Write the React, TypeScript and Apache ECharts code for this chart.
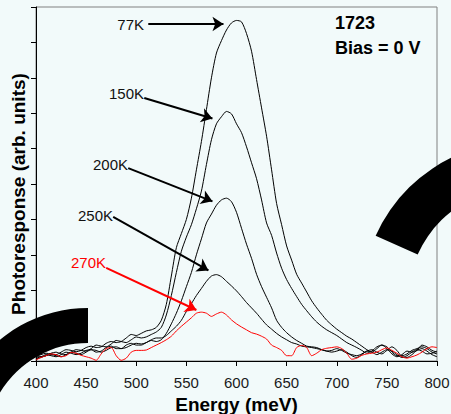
import React, { useEffect, useRef } from 'react';
import * as echarts from 'echarts';

const energy = [
  400, 405, 410, 415, 420, 425, 430, 435, 440, 445,
  450, 455, 460, 465, 470, 475, 480, 485, 490, 495,
  500, 505, 510, 515, 520, 525, 530, 535, 540, 545,
  550, 555, 560, 565, 570, 575, 580, 585, 590, 595,
  600, 605, 610, 615, 620, 625, 630, 635, 640, 645,
  650, 655, 660, 665, 670, 675, 680, 685, 690, 695,
  700, 705, 710, 715, 720, 725, 730, 735, 740, 745,
  750, 755, 760, 765, 770, 775, 780, 785, 790, 795,
  800,
];

const resp77K = [
  0.12, 0.18, 0.22, 0.20, 0.18, 0.25, 0.32, 0.30, 0.26, 0.30,
  0.38, 0.42, 0.38, 0.40, 0.50, 0.55, 0.52, 0.55, 0.65, 0.75,
  0.72, 0.78, 0.85, 0.88, 0.95, 1.15, 1.60, 2.40, 3.20, 3.60,
  4.00, 4.60, 5.40, 6.20, 7.10, 8.00, 8.70, 9.05, 9.35, 9.55,
  9.62, 9.58, 9.25, 8.75, 7.95, 7.15, 6.35, 5.40, 4.45, 3.85,
  3.25, 2.85, 2.45, 2.20, 1.95, 1.70, 1.50, 1.32, 1.15, 1.02,
  0.90, 0.80, 0.70, 0.62, 0.52, 0.42, 0.32, 0.25, 0.35, 0.45,
  0.40, 0.25, 0.15, 0.15, 0.20, 0.30, 0.35, 0.40, 0.35, 0.25,
  0.20,
];

const resp150K = [
  0.15, 0.12, 0.15, 0.22, 0.25, 0.20, 0.18, 0.25, 0.32, 0.30,
  0.28, 0.35, 0.45, 0.42, 0.40, 0.48, 0.58, 0.55, 0.52, 0.60,
  0.68, 0.65, 0.68, 0.75, 0.82, 0.95, 1.30, 1.85, 2.50, 3.10,
  3.50, 3.85, 4.30, 4.80, 5.55, 6.25, 6.70, 6.90, 7.05, 6.98,
  6.70, 6.45, 6.05, 5.60, 5.15, 4.55, 3.90, 3.55, 3.05, 2.62,
  2.30, 2.05, 1.82, 1.60, 1.42, 1.25, 1.10, 0.98, 0.88, 0.80,
  0.72, 0.62, 0.52, 0.45, 0.38, 0.30, 0.22, 0.28, 0.40, 0.45,
  0.35, 0.20, 0.12, 0.18, 0.28, 0.25, 0.30, 0.45, 0.40, 0.30,
  0.25,
];

const resp200K = [
  0.08, 0.12, 0.18, 0.15, 0.12, 0.18, 0.25, 0.22, 0.18, 0.22,
  0.30, 0.32, 0.25, 0.28, 0.38, 0.42, 0.35, 0.35, 0.45, 0.50,
  0.45, 0.45, 0.52, 0.58, 0.55, 0.60, 0.78, 1.05, 1.35, 1.70,
  2.10, 2.50, 3.00, 3.45, 3.90, 4.15, 4.40, 4.55, 4.60, 4.50,
  4.20, 3.75, 3.30, 2.90, 2.45, 2.10, 1.80, 1.50, 1.15, 0.95,
  0.80, 0.68, 0.58, 0.50, 0.42, 0.40, 0.38, 0.32, 0.28, 0.30,
  0.35, 0.30, 0.22, 0.18, 0.15, 0.20, 0.28, 0.32, 0.25, 0.20,
  0.30, 0.40, 0.30, 0.12, 0.10, 0.18, 0.30, 0.35, 0.28, 0.18,
  0.12,
];

const resp250K = [
  0.05, 0.10, 0.15, 0.18, 0.15, 0.12, 0.18, 0.25, 0.22, 0.18,
  0.25, 0.32, 0.30, 0.25, 0.30, 0.38, 0.40, 0.35, 0.38, 0.45,
  0.50, 0.48, 0.52, 0.60, 0.65, 0.65, 0.72, 0.85, 0.98, 1.15,
  1.40, 1.62, 1.85, 2.05, 2.25, 2.40, 2.44, 2.38, 2.25, 2.12,
  1.98, 1.82, 1.65, 1.50, 1.35, 1.18, 1.02, 0.90, 0.78, 0.68,
  0.60, 0.52, 0.48, 0.42, 0.40, 0.38, 0.35, 0.32, 0.28, 0.25,
  0.28, 0.32, 0.25, 0.15, 0.10, 0.18, 0.28, 0.25, 0.18, 0.25,
  0.32, 0.28, 0.18, 0.10, 0.15, 0.25, 0.32, 0.28, 0.20, 0.22,
  0.28,
];

const resp270K = [
  0.03, 0.10, 0.15, 0.20, 0.18, 0.12, 0.15, 0.24, 0.22, 0.16,
  0.12, 0.08, 0.02, 0.20, 0.35, 0.38, 0.15, 0.02, 0.08, 0.25,
  0.30, 0.30, 0.31, 0.38, 0.45, 0.52, 0.60, 0.70, 0.85, 0.98,
  1.10, 1.22, 1.35, 1.38, 1.35, 1.26, 1.33, 1.38, 1.30, 1.16,
  1.05, 0.96, 0.88, 0.80, 0.76, 0.70, 0.62, 0.45, 0.38, 0.30,
  0.15, 0.15, 0.38, 0.44, 0.38, 0.15, 0.22, 0.32, 0.36, 0.38,
  0.40, 0.35, 0.22, 0.05, 0.08, 0.16, 0.20, 0.22, 0.25, 0.32,
  0.37, 0.30, 0.22, 0.12, 0.08, 0.12, 0.17, 0.25, 0.35, 0.40,
  0.38,
];

const seriesNames = ['77K', '150K', '200K', '250K', '270K'];
const seriesValues = [resp77K, resp150K, resp200K, resp250K, resp270K];
const seriesColors = ['#000000', '#000000', '#000000', '#000000', '#ff0000'];

// annotation arrows (data coordinates: energy, response)
const arrowStart = [
  [512, 9.52],
  [508, 7.43],
  [492, 5.45],
  [477, 4.07],
  [470, 2.63],
];
const arrowEnd = [
  [587, 9.52],
  [576, 6.85],
  [576, 4.51],
  [572, 2.56],
  [560, 1.44],
];

// label text anchors (pixels: right edge, vertical middle)
const labelPos = [
  [144, 24],
  [144, 93],
  [128, 164],
  [113, 215],
  [106, 262],
];

const xTicks = { min: 400, max: 800, interval: 50 };
const yTicks = { min: 0, max: 10, interval: 1 };

const FONT = 'Arial, "Liberation Sans", sans-serif';

function buildOption() {
  const series = seriesNames.map((name, i) => ({
    name,
    type: 'line',
    data: energy.map((e, j) => [e, seriesValues[i][j]]),
    showSymbol: false,
    smooth: 0.25,
    lineStyle: { color: seriesColors[i], width: 1 },
    itemStyle: { color: seriesColors[i] },
    z: i === 4 ? 3 : 2,
    markLine: {
      silent: true,
      symbol: ['none', 'arrow'],
      symbolSize: 11,
      label: { show: false },
      lineStyle: { color: seriesColors[i], width: 2, type: 'solid' },
      itemStyle: { color: seriesColors[i] },
      emphasis: { disabled: true },
      data: [[{ coord: arrowStart[i] }, { coord: arrowEnd[i] }]],
    },
  }));

  const texts: any[] = seriesNames.map((name, i) => ({
    type: 'text',
    z: 50,
    style: {
      text: name,
      x: labelPos[i][0],
      y: labelPos[i][1],
      fill: seriesColors[i] === '#000000' ? '#111' : '#ff0000',
      font: '15px ' + FONT,
      align: 'right',
      textAlign: 'right',
      verticalAlign: 'middle',
      textVerticalAlign: 'middle',
    },
  }));

  texts.push(
    {
      type: 'text',
      z: 50,
      x: 18,
      y: 194,
      rotation: Math.PI / 2,
      style: {
        text: 'Photoresponse (arb. units)',
        x: 0,
        y: 0,
        fill: '#000',
        font: 'bold 19px ' + FONT,
        align: 'center',
        textAlign: 'center',
        verticalAlign: 'middle',
        textVerticalAlign: 'middle',
      },
    },
    {
      type: 'text',
      z: 50,
      style: {
        text: '1723',
        x: 335,
        y: 23,
        fill: '#000',
        font: 'bold 18px ' + FONT,
        align: 'left',
        textAlign: 'left',
        verticalAlign: 'middle',
        textVerticalAlign: 'middle',
      },
    },
    {
      type: 'text',
      z: 50,
      style: {
        text: 'Bias = 0 V',
        x: 335,
        y: 48,
        fill: '#000',
        font: 'bold 18px ' + FONT,
        align: 'left',
        textAlign: 'left',
        verticalAlign: 'middle',
        textVerticalAlign: 'middle',
      },
    },
    {
      type: 'sector',
      z: 100,
      shape: {
        cx: 88,
        cy: 446,
        r0: 103,
        r: 138,
        startAngle: Math.PI * 0.85,
        endAngle: Math.PI * 1.5,
        clockwise: true,
      },
      style: { fill: '#000' },
    },
    {
      type: 'sector',
      z: 100,
      shape: {
        cx: 520,
        cy: 300,
        r0: 112,
        r: 158,
        startAngle: (204 * Math.PI) / 180,
        endAngle: (290 * Math.PI) / 180,
        clockwise: true,
      },
      style: { fill: '#000' },
    }
  );

  return {
    animation: false,
    backgroundColor: '#f2fafa',
    grid: {
      left: 36,
      top: 7,
      right: 14,
      bottom: 53,
      containLabel: false,
      outerBoundsMode: 'none',
      show: true,
      borderColor: '#808080',
      borderWidth: 1,
      backgroundColor: 'transparent',
    },
    xAxis: {
      type: 'value',
      min: xTicks.min,
      max: xTicks.max,
      interval: xTicks.interval,
      axisLine: { show: true, lineStyle: { color: '#000', width: 1 } },
      axisTick: { show: true, length: 5, inside: false, lineStyle: { color: '#000' } },
      axisLabel: {
        color: '#1a1a1a',
        fontSize: 15,
        fontFamily: FONT,
        margin: 14,
      },
      splitLine: { show: false },
      name: 'Energy (meV)',
      nameLocation: 'middle',
      nameGap: 32,
      nameTextStyle: {
        fontSize: 19,
        fontWeight: 'bold',
        fontFamily: FONT,
        color: '#000',
      },
    },
    yAxis: {
      type: 'value',
      min: yTicks.min,
      max: yTicks.max,
      interval: yTicks.interval,
      axisLine: { show: true, lineStyle: { color: '#000', width: 1 } },
      axisTick: { show: true, length: 5, inside: false, lineStyle: { color: '#000' } },
      axisLabel: { show: false },
      splitLine: { show: false },
    },
    series,
    graphic: texts,
  };
}

export default function App() {
  const ref = useRef<HTMLDivElement>(null);
  useEffect(() => {
    if (!ref.current) return;
    const chart = echarts.init(ref.current, null, { renderer: 'svg' });
    chart.setOption(buildOption() as any);
    return () => {
      chart.dispose();
    };
  }, []);
  return (
    <div
      ref={ref}
      style={{ position: 'fixed', left: 0, top: 0, width: 451, height: 414 }}
    />
  );
}
